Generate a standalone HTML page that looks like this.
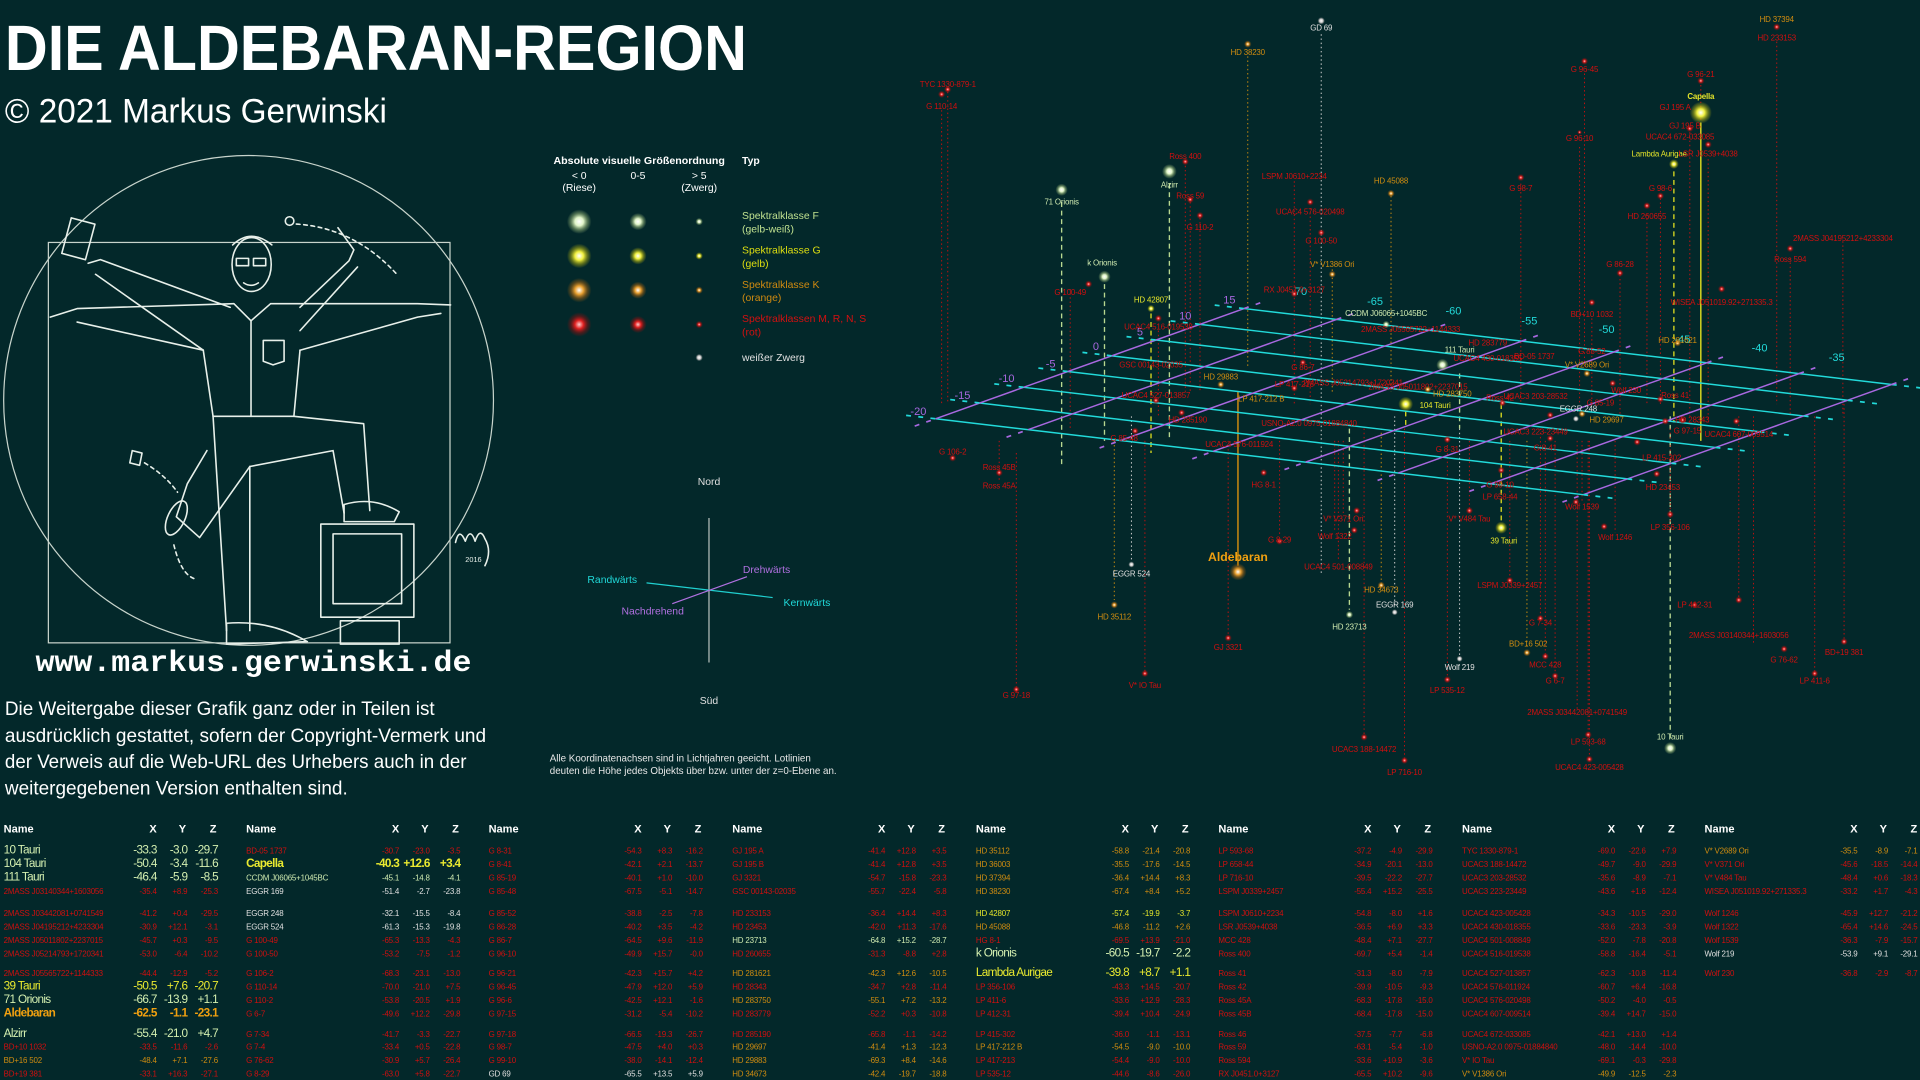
<!DOCTYPE html>
<html><head><meta charset="utf-8"><style>
html,body{margin:0;padding:0;background:#03282a;}
svg{display:block}
text{font-family:"Liberation Sans Narrow","Liberation Sans",sans-serif;}
.e{text-anchor:end}
.m{text-anchor:middle}
.r{fill:#d10f0f;font-size:6.5px;letter-spacing:-0.15px}
.o{fill:#d08c10;font-size:6.5px;letter-spacing:-0.15px}
.y{fill:#e4e42a;font-size:6.5px;letter-spacing:-0.15px}
.f{fill:#cfeab0;font-size:6.5px;letter-spacing:-0.15px}
.w{fill:#e0e0e0;font-size:6.5px;letter-spacing:-0.15px}
.B{font-size:9.6px;letter-spacing:-0.55px}
.bf{fill:#d4efb0}
.by{fill:#eaea30}
.bo{fill:#f0a010;font-weight:bold}
.hd{fill:#fff;font-size:9px;font-weight:bold}
.lr{stroke:#c01010;stroke-width:.8;stroke-dasharray:1.2 2.2}
.lo{stroke:#c88a10;stroke-width:.8;stroke-dasharray:1.2 2.2}
.lw{stroke:#d0d0d0;stroke-width:.8;stroke-dasharray:1.2 2.2}
.lf{stroke:#b8d890;stroke-width:1.1;stroke-dasharray:4 3}
.ly{stroke:#d8d820;stroke-width:1.1;stroke-dasharray:4 3}
.sk{fill:none;stroke:#e8f0ea;stroke-width:1.3;stroke-linejoin:round;stroke-linecap:round}
</style></head><body>
<svg width="1920" height="1080" viewBox="0 0 1568 882" xmlns="http://www.w3.org/2000/svg">
<defs>
<radialGradient id="gF"><stop offset="0" stop-color="#fff"/><stop offset=".35" stop-color="#e0f4c8"/><stop offset=".7" stop-color="#9ab878" stop-opacity=".5"/><stop offset="1" stop-color="#9ab878" stop-opacity="0"/></radialGradient>
<radialGradient id="gG"><stop offset="0" stop-color="#fff"/><stop offset=".35" stop-color="#f0f040"/><stop offset=".7" stop-color="#b0b010" stop-opacity=".5"/><stop offset="1" stop-color="#b0b010" stop-opacity="0"/></radialGradient>
<radialGradient id="gK"><stop offset="0" stop-color="#fff"/><stop offset=".35" stop-color="#e8a030"/><stop offset=".7" stop-color="#a06010" stop-opacity=".5"/><stop offset="1" stop-color="#a06010" stop-opacity="0"/></radialGradient>
<radialGradient id="gM"><stop offset="0" stop-color="#fcc"/><stop offset=".35" stop-color="#e02020"/><stop offset=".7" stop-color="#901010" stop-opacity=".5"/><stop offset="1" stop-color="#901010" stop-opacity="0"/></radialGradient>
<radialGradient id="gW"><stop offset="0" stop-color="#fff"/><stop offset=".5" stop-color="#c8c8c8"/><stop offset="1" stop-color="#888" stop-opacity="0"/></radialGradient>
</defs>
<rect width="1568" height="882" fill="#03282a"/>

<!-- Title -->
<text x="4" y="57" fill="#fff" font-size="52" font-weight="bold" textLength="606" lengthAdjust="spacingAndGlyphs" style="font-family:'Liberation Sans',sans-serif">DIE ALDEBARAN-REGION</text>
<text x="4" y="100" fill="#fff" font-size="28" textLength="312" lengthAdjust="spacingAndGlyphs" style="font-family:'Liberation Sans',sans-serif">© 2021 Markus Gerwinski</text>

<!-- Sketch -->
<circle cx="203" cy="327" r="200" fill="none" stroke="#c8d4cc" stroke-width="1"/>
<rect x="39.5" y="198" width="328" height="327" fill="none" stroke="#c8d4cc" stroke-width="1"/>
<g class="sk">
<ellipse cx="205.5" cy="216" rx="16" ry="22"/>
<path d="M190 200 Q205 186 222 200"/>
<rect x="193" y="211" width="10" height="6"/><rect x="207" y="211" width="10" height="6"/>
<path d="M199 231 Q205 235 211 231"/>
<path d="M191 248 L63 252 L41 259"/>
<path d="M166 286 L63 263"/>
<path d="M188 251 L82 212 L72 215"/>
<path d="M166 286 L78 224"/>
<rect x="54" y="180" width="20" height="30" transform="rotate(15 64 195)"/>
<path d="M221 248 L341 248 L368 249"/>
<path d="M245 286 L341 259 L360 256"/>
<path d="M245 251 L285 213 L289 204 L276 186"/>
<path d="M245 270 L292 218"/>
<path d="M191 248 L205 262 L221 248"/>
<path d="M166 286 L174 340 L240 340 L245 286"/>
<path d="M205 262 L205 340"/>
<path d="M215 278 L232 278 L232 295 L223 298 L215 295 Z"/>
<path d="M174 340 L185 515"/>
<path d="M204 381 L204 515"/>
<path d="M185 509 Q220 506 251 524 L185 526 Z"/>
<path d="M240 340 L297 346 L302 417"/>
<path d="M204 381 L272 368 L281 419"/>
<path d="M281 412 Q305 405 326 418 L322 426 L281 426 Z"/>
<path d="M169 368 L153 395 L144 422 L163 439 L204 381"/>
<ellipse cx="144" cy="423" rx="7" ry="15" transform="rotate(25 144 423)"/>
<rect x="262" y="428" width="76" height="76"/>
<rect x="272" y="436" width="56" height="57"/>
<path d="M278 507 L326 507 L326 526 L278 526 Z"/>
<circle cx="236.5" cy="180.5" r="3.5"/>
<path d="M242 183 Q290 186 325 225" stroke-dasharray="3 3"/>
<path d="M108 368 L116 370 L114 380 L106 378 Z"/>
<path d="M118 378 Q135 388 145 402" stroke-dasharray="3 3"/>
<path d="M142 445 Q148 470 160 473" stroke-dasharray="3 3"/>
<path d="M372 443 Q375 430 380 442 Q384 430 388 442 Q392 430 396 440 Q402 450 396 462"/>
</g>
<text x="380" y="459" fill="#e8f0ea" font-size="6">2016</text>
<text x="207" y="548" class="m" fill="#fff" font-size="24" font-weight="bold" textLength="356" lengthAdjust="spacingAndGlyphs" style="font-family:'Liberation Mono',monospace">www.markus.gerwinski.de</text>

<g fill="#fff" font-size="15.5" style="font-family:'Liberation Sans',sans-serif">
<text x="4" y="584" textLength="351" lengthAdjust="spacingAndGlyphs">Die Weitergabe dieser Grafik ganz oder in Teilen ist</text>
<text x="4" y="606" textLength="393" lengthAdjust="spacingAndGlyphs">ausdrücklich gestattet, sofern der Copyright-Vermerk und</text>
<text x="4" y="627" textLength="377" lengthAdjust="spacingAndGlyphs">der Verweis auf die Web-URL des Urhebers auch in der</text>
<text x="4" y="649" textLength="280" lengthAdjust="spacingAndGlyphs">weitergegebenen Version enthalten sind.</text>
</g>

<!-- Legend -->
<g font-size="8.5" fill="#fff">
<text x="452" y="134" font-weight="bold" textLength="140" lengthAdjust="spacingAndGlyphs">Absolute visuelle Größenordnung</text>
<text x="606" y="134" font-weight="bold">Typ</text>
<text x="473" y="146" class="m">&lt; 0</text><text x="473" y="156" class="m">(Riese)</text>
<text x="521" y="146" class="m">0-5</text>
<text x="571" y="146" class="m">&gt; 5</text><text x="571" y="156" class="m">(Zwerg)</text>
</g>
<circle cx="473" cy="181" r="10" fill="url(#gF)"/><circle cx="521" cy="181" r="7" fill="url(#gF)"/><circle cx="571" cy="181" r="3" fill="url(#gF)"/>
<circle cx="473" cy="209" r="10" fill="url(#gG)"/><circle cx="521" cy="209" r="7" fill="url(#gG)"/><circle cx="571" cy="209" r="3" fill="url(#gG)"/>
<circle cx="473" cy="237" r="10" fill="url(#gK)"/><circle cx="521" cy="237" r="7" fill="url(#gK)"/><circle cx="571" cy="237" r="3" fill="url(#gK)"/>
<circle cx="473" cy="265" r="10" fill="url(#gM)"/><circle cx="521" cy="265" r="7" fill="url(#gM)"/><circle cx="571" cy="265" r="3" fill="url(#gM)"/>
<circle cx="571" cy="292" r="3" fill="url(#gW)"/>
<g font-size="8.5">
<text x="606" y="179" fill="#bfe08f">Spektralklasse F</text><text x="606" y="190" fill="#bfe08f">(gelb-weiß)</text>
<text x="606" y="207" fill="#dede10">Spektralklasse G</text><text x="606" y="218" fill="#dede10">(gelb)</text>
<text x="606" y="235" fill="#d08a10">Spektralklasse K</text><text x="606" y="246" fill="#d08a10">(orange)</text>
<text x="606" y="263" fill="#d41010">Spektralklassen M, R, N, S</text><text x="606" y="274" fill="#d41010">(rot)</text>
<text x="606" y="295" fill="#e0e0e0">weißer Zwerg</text>
</g>

<!-- Compass -->
<line x1="579" y1="423" x2="579" y2="541" stroke="#9aa8a4" stroke-width="1.2"/>
<line x1="528" y1="476" x2="631" y2="488" stroke="#20d0d0" stroke-width="1"/>
<line x1="549" y1="493" x2="610" y2="471" stroke="#b070e0" stroke-width="1"/>
<g font-size="8.5">
<text x="579" y="396" class="m" fill="#e0e0e0">Nord</text>
<text x="579" y="575" class="m" fill="#e0e0e0">Süd</text>
<text x="500" y="476" class="m" fill="#20d8d8">Randwärts</text>
<text x="626" y="468" class="m" fill="#b070e0">Drehwärts</text>
<text x="533" y="502" class="m" fill="#b070e0">Nachdrehend</text>
<text x="659" y="495" class="m" fill="#20d8d8">Kernwärts</text>
</g>
<g font-size="8" fill="#e8e8e8">
<text x="449" y="622">Alle Koordinatenachsen sind in Lichtjahren geeicht. Lotlinien</text>
<text x="449" y="632">deuten die Höhe jedes Objekts über bzw. unter der z=0-Ebene an.</text>
</g>

<!-- Vertical drop lines -->
<g>
<line x1="1079" y1="28" x2="1079" y2="470" class="lw"/>
<line x1="1019" y1="46" x2="1019" y2="300" class="lo"/>
<line x1="1451" y1="34" x2="1451" y2="330" class="lr"/>
<line x1="774" y1="75" x2="774" y2="330" class="lr"/><line x1="769" y1="90" x2="769" y2="330" class="lr"/>
<line x1="1294" y1="60" x2="1294" y2="300" class="lr"/>
<line x1="1389" y1="66" x2="1389" y2="360" class="lr"/>
<line x1="1389" y1="100" x2="1389" y2="360" stroke="#d8d820" stroke-width="1.2"/>
<line x1="1380" y1="108" x2="1380" y2="340" class="lr"/>
<line x1="1395" y1="130" x2="1395" y2="345" class="lr"/>
<line x1="1367" y1="140" x2="1367" y2="345" class="ly"/>
<line x1="1290" y1="120" x2="1290" y2="330" class="lr"/>
<line x1="968" y1="132" x2="968" y2="320" class="lr"/>
<line x1="955" y1="150" x2="955" y2="360" class="lf"/>
<line x1="867" y1="165" x2="867" y2="380" class="lf"/>
<line x1="972" y1="165" x2="972" y2="320" class="lr"/>
<line x1="980" y1="178" x2="980" y2="320" class="lr"/>
<line x1="1057" y1="148" x2="1057" y2="330" class="lr"/>
<line x1="1070" y1="170" x2="1070" y2="330" class="lr"/>
<line x1="1136" y1="160" x2="1136" y2="320" class="lo"/>
<line x1="1242" y1="150" x2="1242" y2="330" class="lr"/>
<line x1="1356" y1="162" x2="1356" y2="330" class="lr"/>
<line x1="1345" y1="175" x2="1345" y2="330" class="lr"/>
<line x1="1088" y1="220" x2="1088" y2="320" class="lo"/>
<line x1="902" y1="232" x2="902" y2="360" class="lf"/>
<line x1="874" y1="236" x2="874" y2="350" class="lr"/>
<line x1="940" y1="256" x2="940" y2="370" class="ly"/>
<line x1="1323" y1="221" x2="1323" y2="340" class="lr"/>
<line x1="1462" y1="211" x2="1462" y2="340" class="lr"/>
<line x1="1505" y1="197" x2="1505" y2="340" class="lr"/>
<line x1="1300" y1="260" x2="1300" y2="330" class="lr"/>
<line x1="946" y1="270" x2="946" y2="340" class="lr"/>
<line x1="1192" y1="305" x2="1192" y2="350" class="lf"/>
<line x1="1148" y1="336" x2="1148" y2="350" class="ly"/>
<line x1="1011" y1="320" x2="1011" y2="462" stroke="#d08c10" stroke-width="1.2"/>
<line x1="924" y1="340" x2="924" y2="458" class="lw"/>
<line x1="1093" y1="360" x2="1093" y2="458" class="lr"/>
<line x1="1128" y1="350" x2="1128" y2="478" class="lo"/>
<line x1="1139" y1="340" x2="1139" y2="496" class="lw"/>
<line x1="1233" y1="360" x2="1233" y2="474" class="lr"/>
<line x1="1420" y1="340" x2="1420" y2="490" class="lr"/>
<line x1="1258" y1="350" x2="1258" y2="505" class="lr"/>
<line x1="910" y1="360" x2="910" y2="490" class="lo"/>
<line x1="1102" y1="350" x2="1102" y2="498" class="lf"/>
<line x1="1003" y1="360" x2="1003" y2="518" class="lr"/>
<line x1="1247" y1="360" x2="1247" y2="530" class="lo"/>
<line x1="1432" y1="340" x2="1432" y2="527" class="lr"/>
<line x1="1506" y1="330" x2="1506" y2="522" class="lr"/>
<line x1="1192" y1="350" x2="1192" y2="537" class="lw"/>
<line x1="1262" y1="360" x2="1262" y2="535" class="lr"/>
<line x1="935" y1="360" x2="935" y2="549" class="lr"/>
<line x1="1182" y1="360" x2="1182" y2="553" class="lr"/>
<line x1="1270" y1="360" x2="1270" y2="553" class="lr"/>
<line x1="1482" y1="340" x2="1482" y2="553" class="lr"/>
<line x1="830" y1="370" x2="830" y2="565" class="lr"/>
<line x1="1288" y1="360" x2="1288" y2="579" class="lr"/>
<line x1="1297" y1="360" x2="1297" y2="602" class="lr"/>
<line x1="1364" y1="340" x2="1364" y2="606" class="lf"/>
<line x1="1114" y1="350" x2="1114" y2="602" class="lr"/>
<line x1="1298" y1="360" x2="1298" y2="622" class="lr"/>
<line x1="1147" y1="350" x2="1147" y2="620" class="lr"/>
<line x1="1226" y1="330" x2="1226" y2="428" class="ly"/>
<line x1="1097" y1="360" x2="1097" y2="420" class="lr"/>
<line x1="1200" y1="360" x2="1200" y2="420" class="lr"/>
<line x1="1090" y1="360" x2="1090" y2="434" class="lr"/>
<line x1="1319" y1="360" x2="1319" y2="435" class="lr"/>
<line x1="1045" y1="360" x2="1045" y2="437" class="lr"/>
<line x1="1364" y1="350" x2="1364" y2="427" class="lr"/>
<line x1="1292" y1="360" x2="1292" y2="410" class="lr"/>
<line x1="816" y1="360" x2="816" y2="393" class="lr"/>
</g>

<!-- Grid -->
<g stroke-width="1.2">
<g stroke="#22dada">
<line x1="764" y1="342" x2="1293" y2="404"/>
<line x1="800" y1="329.1" x2="1329" y2="391.1"/>
<line x1="836" y1="316.3" x2="1365" y2="378.3"/>
<line x1="872" y1="303.4" x2="1401" y2="365.4"/>
<line x1="908" y1="290.6" x2="1437" y2="352.6"/>
<line x1="944" y1="277.7" x2="1473" y2="339.7"/>
<line x1="980" y1="264.9" x2="1509" y2="326.9"/>
<line x1="1016" y1="252" x2="1545" y2="314"/>
</g>
<g stroke="#a868e0">
<line x1="764" y1="342" x2="1016" y2="252"/>
<line x1="839.6" y1="350.9" x2="1091.6" y2="260.9"/>
<line x1="915.1" y1="359.7" x2="1167.1" y2="269.7"/>
<line x1="990.7" y1="368.6" x2="1242.7" y2="278.6"/>
<line x1="1066.3" y1="377.4" x2="1318.3" y2="287.4"/>
<line x1="1141.9" y1="386.3" x2="1393.9" y2="296.3"/>
<line x1="1217.4" y1="395.1" x2="1469.4" y2="305.1"/>
<line x1="1293" y1="404" x2="1545" y2="314"/>
</g>
<g stroke-dasharray="4 6" stroke-width="1.4">
<g stroke="#22dada">
<line x1="740" y1="339.2" x2="764" y2="342"/><line x1="1293" y1="404" x2="1318" y2="407"/>
<line x1="776" y1="326.3" x2="800" y2="329.1"/><line x1="1329" y1="391.1" x2="1354" y2="394"/>
<line x1="812" y1="313.5" x2="836" y2="316.3"/><line x1="1365" y1="378.3" x2="1390" y2="381.2"/>
<line x1="848" y1="300.6" x2="872" y2="303.4"/><line x1="1401" y1="365.4" x2="1426" y2="368.3"/>
<line x1="884" y1="287.8" x2="908" y2="290.6"/><line x1="1437" y1="352.6" x2="1462" y2="355.5"/>
<line x1="920" y1="274.9" x2="944" y2="277.7"/><line x1="1473" y1="339.7" x2="1498" y2="342.6"/>
<line x1="956" y1="262.1" x2="980" y2="264.9"/><line x1="1509" y1="326.9" x2="1534" y2="329.8"/>
<line x1="992" y1="249.2" x2="1016" y2="252"/><line x1="1545" y1="314" x2="1570" y2="317"/>
</g>
<g stroke="#a868e0">
<line x1="747" y1="348" x2="764" y2="342"/>
<line x1="822" y1="357" x2="839.6" y2="350.9"/>
<line x1="898" y1="365.8" x2="915.1" y2="359.7"/>
<line x1="973.7" y1="374.7" x2="990.7" y2="368.6"/>
<line x1="1049" y1="383.5" x2="1066.3" y2="377.4"/>
<line x1="1125" y1="392.4" x2="1141.9" y2="386.3"/>
<line x1="1200" y1="401.2" x2="1217.4" y2="395.1"/>
<line x1="1276" y1="410" x2="1293" y2="404"/>
<line x1="1016" y1="252" x2="1033" y2="246"/>
<line x1="1091.6" y1="260.9" x2="1109" y2="254.8"/>
<line x1="1167.1" y1="269.7" x2="1184" y2="263.6"/>
<line x1="1242.7" y1="278.6" x2="1260" y2="272.5"/>
<line x1="1318.3" y1="287.4" x2="1335" y2="281.3"/>
<line x1="1393.9" y1="296.3" x2="1411" y2="290.2"/>
<line x1="1469.4" y1="305.1" x2="1486" y2="299"/>
<line x1="1545" y1="314" x2="1562" y2="308"/>
</g>
</g>
</g>
<g font-size="9">
<g fill="#a868e0">
<text x="750" y="339" class="m">-20</text><text x="786" y="326" class="m">-15</text><text x="822" y="312" class="m">-10</text><text x="858" y="300" class="m">-5</text>
<text x="895" y="286" class="m">0</text><text x="931" y="274" class="m">5</text><text x="968" y="261" class="m">10</text><text x="1004" y="248" class="m">15</text>
</g>
<g fill="#22dada">
<text x="1061" y="241" class="m">-70</text><text x="1123" y="249" class="m">-65</text><text x="1187" y="257" class="m">-60</text><text x="1249" y="265" class="m">-55</text>
<text x="1312" y="272" class="m">-50</text><text x="1374" y="280" class="m">-45</text><text x="1437" y="287" class="m">-40</text><text x="1500" y="295" class="m">-35</text>
</g>
</g>

<!-- Stars -->
<g>
<circle cx="1079" cy="17" r="3" fill="url(#gW)"/><text x="1079" y="25" class="w m">GD 69</text>
<circle cx="1019" cy="36" r="3" fill="url(#gK)"/><text x="1019" y="45" class="o m">HD 38230</text>
<circle cx="1451" cy="22" r="3" fill="url(#gM)"/><text x="1451" y="18" class="o m">HD 37394</text><text x="1451" y="33" class="r m">HD 233153</text>
<circle cx="774" cy="73" r="3" fill="url(#gM)"/><circle cx="769" cy="77" r="3" fill="url(#gM)"/><text x="774" y="71" class="r m">TYC 1330-879-1</text><text x="769" y="89" class="r m">G 110-14</text>
<circle cx="1294" cy="50" r="3" fill="url(#gM)"/><text x="1294" y="59" class="r m">G 96-45</text>
<circle cx="1389" cy="66" r="3" fill="url(#gM)"/><text x="1389" y="63" class="r m">G 96-21</text>
<circle cx="1389" cy="92" r="9" fill="url(#gG)"/><text x="1389" y="81" class="y m" font-size="9.5" font-weight="bold">Capella</text>
<circle cx="1380" cy="105" r="3" fill="url(#gM)"/><text x="1368" y="90" class="r m">GJ 195 A</text><text x="1376" y="105" class="r m">GJ 195 B</text>
<text x="1372" y="114" class="r m">UCAC4 672-033085</text>
<circle cx="1367" cy="134" r="4" fill="url(#gG)"/><text x="1355" y="128" class="y m" font-size="9">Lambda Aurigae</text>
<circle cx="1395" cy="118" r="3" fill="url(#gM)"/><text x="1395" y="128" class="r m">LSR J0539+4038</text>
<circle cx="1290" cy="108" r="2" fill="url(#gM)"/><text x="1290" y="115" class="r m">G 96-10</text>
<circle cx="968" cy="132" r="3" fill="url(#gM)"/><text x="968" y="130" class="r m">Ross 400</text>
<circle cx="955" cy="140" r="6" fill="url(#gF)"/><text x="955" y="153" class="f m" font-size="9">Alzirr</text>
<circle cx="867" cy="155" r="5" fill="url(#gF)"/><text x="867" y="167" class="f m" font-size="9">71 Orionis</text>
<circle cx="972" cy="163" r="3" fill="url(#gM)"/><text x="972" y="162" class="r m">Ross 59</text>
<circle cx="980" cy="176" r="3" fill="url(#gM)"/><text x="980" y="188" class="r m">G 110-2</text>
<text x="1057" y="146" class="r m">LSPM J0610+2234</text>
<circle cx="1070" cy="165" r="3" fill="url(#gM)"/><text x="1070" y="175" class="r m">UCAC4 576-020498</text>
<circle cx="1079" cy="190" r="3" fill="url(#gM)"/><text x="1079" y="199" class="r m">G 100-50</text>
<circle cx="1136" cy="158" r="3" fill="url(#gK)"/><text x="1136" y="150" class="o m">HD 45088</text>
<circle cx="1242" cy="145" r="3" fill="url(#gM)"/><text x="1242" y="156" class="r m">G 98-7</text>
<circle cx="1356" cy="160" r="3" fill="url(#gM)"/><text x="1356" y="156" class="r m">G 98-6</text>
<circle cx="1345" cy="168" r="3" fill="url(#gM)"/><text x="1345" y="179" class="r m">HD 260655</text>
<circle cx="1088" cy="224" r="3" fill="url(#gK)"/><text x="1088" y="218" class="o m">V* V1386 Ori</text>
<circle cx="1057" cy="240" r="3" fill="url(#gM)"/><text x="1057" y="239" class="r m">RX J0451.0+3127</text>
<circle cx="902" cy="226" r="5" fill="url(#gF)"/><text x="900" y="217" class="f m" font-size="9">k Orionis</text>
<circle cx="889" cy="232" r="3" fill="url(#gM)"/><text x="874" y="241" class="r m">G 100-49</text>
<circle cx="940" cy="252" r="3" fill="url(#gG)"/><text x="940" y="247" class="y m">HD 42807</text>
<circle cx="1323" cy="223" r="3" fill="url(#gM)"/><text x="1323" y="218" class="r m">G 86-28</text>
<circle cx="1462" cy="203" r="3" fill="url(#gM)"/><text x="1462" y="214" class="r m">Ross 594</text>
<text x="1505" y="197" class="r m">2MASS J04195212+4233304</text>
<circle cx="1300" cy="247" r="3" fill="url(#gM)"/><text x="1300" y="259" class="r m">BD+10 1032</text>
<circle cx="1406" cy="236" r="3" fill="url(#gM)"/><text x="1406" y="249" class="r m">WISEA J051019.92+271335.3</text>
<circle cx="946" cy="260" r="3" fill="url(#gM)"/><text x="946" y="269" class="r m">UCAC4 516-019538</text>
<circle cx="1132" cy="265" r="3" fill="url(#gF)"/><text x="1132" y="258" class="f m">CCDM J06065+1045BC</text>
<text x="1152" y="271" class="r m">2MASS J05565722+1144333</text>
<text x="1215" y="282" class="r m">HD 283779</text>
<circle cx="1370" cy="280" r="3" fill="url(#gK)"/><text x="1370" y="280" class="o m">HD 281621</text>
<text x="1300" y="289" class="r m">G 85-52</text>
<circle cx="1178" cy="298" r="5" fill="url(#gF)"/><text x="1192" y="288" class="f m" font-size="9.5">111 Tauri</text>
<text x="1215" y="295" class="r m">UCAC4 430-018355</text>
<text x="1253" y="293" class="r m">BD-05 1737</text>
<text x="940" y="300" class="r m">GSC 00143-02035</text>
<circle cx="1296" cy="305" r="3" fill="url(#gK)"/><text x="1296" y="300" class="o m">V* V2689 Ori</text>
<circle cx="1064" cy="296" r="3" fill="url(#gM)"/><text x="1064" y="302" class="r m">G 86-7</text>
<circle cx="997" cy="314" r="3" fill="url(#gK)"/><text x="997" y="310" class="o m">HD 29883</text>
<circle cx="1057" cy="317" r="3" fill="url(#gM)"/><text x="1057" y="316" class="r m">LP 417-213</text>
<text x="1105" y="315" class="r m">2MASS J05214793+1720341</text>
<text x="1158" y="318" class="r m">2MASS J05011802+2237015</text>
<text x="1254" y="326" class="r m">UCAC3 203-28532</text>
<circle cx="1317" cy="313" r="3" fill="url(#gM)"/><text x="1328" y="321" class="r m">Wolf 230</text>
<circle cx="1148" cy="330" r="6" fill="url(#gG)"/><text x="1172" y="333" class="y m" font-size="9.5">104 Tauri</text>
<circle cx="1166" cy="318" r="3" fill="url(#gK)"/><text x="1186" y="324" class="o m">HD 283750</text>
<text x="1030" y="328" class="o m">LP 417-212 B</text>
<circle cx="944" cy="327" r="3" fill="url(#gM)"/><text x="944" y="325" class="r m">UCAC4 527-013857</text>
<circle cx="1227" cy="329" r="3" fill="url(#gM)"/><text x="1225" y="327" class="r m">Ross 42</text>
<text x="1307" y="331" class="r m">G 85-19</text>
<circle cx="1356" cy="326" r="3" fill="url(#gM)"/><text x="1368" y="325" class="r m">Ross 41</text>
<circle cx="1374" cy="343" r="3" fill="url(#gM)"/><text x="1382" y="345" class="r m">HD 28343</text>
<circle cx="1287" cy="342" r="2.5" fill="url(#gW)"/><text x="1289" y="336" class="w m">EGGR 248</text>
<circle cx="1292" cy="338" r="3" fill="url(#gK)"/><text x="1312" y="345" class="o m">HD 29697</text>
<circle cx="965" cy="337" r="3" fill="url(#gM)"/><text x="970" y="345" class="r m">HD 285190</text>
<text x="1069" y="348" class="r m">USNO-A2.0 0975-01884840</text>
<circle cx="1266" cy="339" r="3" fill="url(#gM)"/><text x="1254" y="355" class="r m">UCAC3 223-23449</text>
<circle cx="1360" cy="344" r="3" fill="url(#gM)"/><text x="1378" y="354" class="r m">G 97-15</text>
<circle cx="1418" cy="344" r="3" fill="url(#gM)"/><text x="1420" y="357" class="r m">UCAC4 607-009514</text>
<circle cx="927" cy="352" r="3" fill="url(#gM)"/><text x="918" y="360" class="r m">G 85-48</text>
<text x="1012" y="365" class="r m">UCAC4 576-011924</text>
<circle cx="778" cy="374" r="3" fill="url(#gM)"/><text x="778" y="371" class="r m">G 106-2</text>
<circle cx="1182" cy="359" r="3" fill="url(#gM)"/><text x="1182" y="369" class="r m">G 8-31</text>
<circle cx="1266" cy="358" r="3" fill="url(#gM)"/><text x="1262" y="368" class="r m">G 8-41</text>
<circle cx="1337" cy="361" r="3" fill="url(#gM)"/><text x="1357" y="376" class="r m">LP 415-302</text>
<circle cx="816" cy="386" r="3" fill="url(#gM)"/><text x="816" y="384" class="r m">Ross 45B</text><text x="816" y="399" class="r m">Ross 45A</text>
<circle cx="1032" cy="386" r="3" fill="url(#gM)"/><text x="1032" y="398" class="r m">HG 8-1</text>
<circle cx="1226" cy="384" r="3" fill="url(#gM)"/><text x="1225" y="398" class="r m">G 99-10</text>
<circle cx="1353" cy="387" r="3" fill="url(#gM)"/><text x="1358" y="400" class="r m">HD 23453</text>
<text x="1225" y="408" class="r m">LP 658-44</text>
<circle cx="1287" cy="410" r="3" fill="url(#gM)"/><text x="1292" y="416" class="r m">Wolf 1539</text>
<circle cx="1364" cy="420" r="3" fill="url(#gM)"/><text x="1364" y="433" class="r m">LP 356-106</text>
<circle cx="1108" cy="417" r="3" fill="url(#gM)"/><text x="1097" y="426" class="r m">V* V371 Ori</text>
<circle cx="1200" cy="417" r="3" fill="url(#gM)"/><text x="1200" y="426" class="r m">V* V484 Tau</text>
<circle cx="1106" cy="433" r="3" fill="url(#gM)"/><text x="1090" y="440" class="r m">Wolf 1322</text>
<circle cx="1310" cy="430" r="3" fill="url(#gM)"/><text x="1319" y="441" class="r m">Wolf 1246</text>
<circle cx="1226" cy="431" r="5" fill="url(#gG)"/><text x="1228" y="444" class="y m" font-size="8.5">39 Tauri</text>
<circle cx="1045" cy="442" r="3" fill="url(#gM)"/><text x="1045" y="443" class="r m">G 8-29</text>
<circle cx="1011" cy="467" r="7" fill="url(#gK)"/><text x="1011" y="458" class="m" fill="#f0a010" font-size="10" font-weight="bold">Aldebaran</text>
<circle cx="924" cy="461" r="2.5" fill="url(#gW)"/><text x="924" y="471" class="w m">EGGR 524</text>
<text x="1093" y="465" class="r m">UCAC4 501-008849</text>
<circle cx="1128" cy="478" r="3" fill="url(#gK)"/><text x="1128" y="484" class="o m">HD 34673</text>
<circle cx="1139" cy="500" r="2.5" fill="url(#gW)"/><text x="1139" y="496" class="w m">EGGR 169</text>
<circle cx="1233" cy="474" r="3" fill="url(#gM)"/><text x="1233" y="480" class="r m">LSPM J0339+2457</text>
<circle cx="1420" cy="490" r="3" fill="url(#gM)"/><text x="1420" y="521" class="r m">2MASS J03140344+1603056</text>
<circle cx="1384" cy="494" r="3" fill="url(#gM)"/><text x="1384" y="496" class="r m">LP 412-31</text>
<circle cx="1258" cy="505" r="3" fill="url(#gM)"/><text x="1258" y="511" class="r m">G 7-34</text>
<circle cx="910" cy="494" r="3" fill="url(#gK)"/><text x="910" y="506" class="o m">HD 35112</text>
<circle cx="1102" cy="502" r="3" fill="url(#gF)"/><text x="1102" y="514" class="f m">HD 23713</text>
<circle cx="1003" cy="521" r="3" fill="url(#gM)"/><text x="1003" y="531" class="r m">GJ 3321</text>
<circle cx="1247" cy="533" r="3" fill="url(#gK)"/><text x="1248" y="528" class="o m">BD+16 502</text>
<circle cx="1457" cy="530" r="3" fill="url(#gM)"/><text x="1457" y="541" class="r m">G 76-62</text>
<circle cx="1506" cy="524" r="3" fill="url(#gM)"/><text x="1506" y="535" class="r m">BD+19 381</text>
<circle cx="1192" cy="538" r="2.5" fill="url(#gW)"/><text x="1192" y="547" class="w m">Wolf 219</text>
<circle cx="1262" cy="536" r="3" fill="url(#gM)"/><text x="1262" y="545" class="r m">MCC 428</text>
<circle cx="935" cy="550" r="3" fill="url(#gM)"/><text x="935" y="562" class="r m">V* IO Tau</text>
<circle cx="1182" cy="555" r="3" fill="url(#gM)"/><text x="1182" y="566" class="r m">LP 535-12</text>
<circle cx="1270" cy="552" r="3" fill="url(#gM)"/><text x="1270" y="558" class="r m">G 6-7</text>
<circle cx="1482" cy="550" r="3" fill="url(#gM)"/><text x="1482" y="558" class="r m">LP 411-6</text>
<circle cx="830" cy="563" r="3" fill="url(#gM)"/><text x="830" y="570" class="r m">G 97-18</text>
<text x="1288" y="584" class="r m">2MASS J03442081+0741549</text>
<circle cx="1297" cy="600" r="3" fill="url(#gM)"/><text x="1297" y="608" class="r m">LP 593-68</text>
<circle cx="1364" cy="611" r="5" fill="url(#gF)"/><text x="1364" y="604" class="f m" font-size="9">10 Tauri</text>
<circle cx="1114" cy="602" r="3" fill="url(#gM)"/><text x="1114" y="614" class="r m">UCAC3 188-14472</text>
<circle cx="1298" cy="620" r="3" fill="url(#gM)"/><text x="1298" y="629" class="r m">UCAC4 423-005428</text>
<circle cx="1147" cy="621" r="3" fill="url(#gM)"/><text x="1147" y="633" class="r m">LP 716-10</text>
</g>

<!-- Table -->
<g transform="translate(3,0)">
<text y="680" class="hd"><tspan x="0">Name</tspan><tspan x="122" class="m">X</tspan><tspan x="146" class="m">Y</tspan><tspan x="171" class="m">Z</tspan></text>
<text y="697" class="f B bf"><tspan x="0">10 Tauri</tspan><tspan x="125" class="e">-33.3</tspan><tspan x="150" class="e">-3.0</tspan><tspan x="175" class="e">-29.7</tspan></text>
<text y="708" class="f B bf"><tspan x="0">104 Tauri</tspan><tspan x="125" class="e">-50.4</tspan><tspan x="150" class="e">-3.4</tspan><tspan x="175" class="e">-11.6</tspan></text>
<text y="719" class="f B bf"><tspan x="0">111 Tauri</tspan><tspan x="125" class="e">-46.4</tspan><tspan x="150" class="e">-5.9</tspan><tspan x="175" class="e">-8.5</tspan></text>
<text y="730" class="r"><tspan x="0">2MASS J03140344+1603056</tspan><tspan x="125" class="e">-35.4</tspan><tspan x="150" class="e">+8.9</tspan><tspan x="175" class="e">-25.3</tspan></text>
<text y="748" class="r"><tspan x="0">2MASS J03442081+0741549</tspan><tspan x="125" class="e">-41.2</tspan><tspan x="150" class="e">+0.4</tspan><tspan x="175" class="e">-29.5</tspan></text>
<text y="759" class="r"><tspan x="0">2MASS J04195212+4233304</tspan><tspan x="125" class="e">-30.9</tspan><tspan x="150" class="e">+12.1</tspan><tspan x="175" class="e">-3.1</tspan></text>
<text y="770" class="r"><tspan x="0">2MASS J05011802+2237015</tspan><tspan x="125" class="e">-45.7</tspan><tspan x="150" class="e">+0.3</tspan><tspan x="175" class="e">-9.5</tspan></text>
<text y="781" class="r"><tspan x="0">2MASS J05214793+1720341</tspan><tspan x="125" class="e">-53.0</tspan><tspan x="150" class="e">-6.4</tspan><tspan x="175" class="e">-10.2</tspan></text>
<text y="797" class="r"><tspan x="0">2MASS J05565722+1144333</tspan><tspan x="125" class="e">-44.4</tspan><tspan x="150" class="e">-12.9</tspan><tspan x="175" class="e">-5.2</tspan></text>
<text y="808" class="y B by"><tspan x="0">39 Tauri</tspan><tspan x="125" class="e">-50.5</tspan><tspan x="150" class="e">+7.6</tspan><tspan x="175" class="e">-20.7</tspan></text>
<text y="819" class="f B bf"><tspan x="0">71 Orionis</tspan><tspan x="125" class="e">-66.7</tspan><tspan x="150" class="e">-13.9</tspan><tspan x="175" class="e">+1.1</tspan></text>
<text y="830" class="o B bo"><tspan x="0">Aldebaran</tspan><tspan x="125" class="e">-62.5</tspan><tspan x="150" class="e">-1.1</tspan><tspan x="175" class="e">-23.1</tspan></text>
<text y="847" class="f B bf"><tspan x="0">Alzirr</tspan><tspan x="125" class="e">-55.4</tspan><tspan x="150" class="e">-21.0</tspan><tspan x="175" class="e">+4.7</tspan></text>
<text y="857" class="r"><tspan x="0">BD+10 1032</tspan><tspan x="125" class="e">-33.5</tspan><tspan x="150" class="e">-11.6</tspan><tspan x="175" class="e">-2.6</tspan></text>
<text y="868" class="o"><tspan x="0">BD+16 502</tspan><tspan x="125" class="e">-48.4</tspan><tspan x="150" class="e">+7.1</tspan><tspan x="175" class="e">-27.6</tspan></text>
<text y="879" class="r"><tspan x="0">BD+19 381</tspan><tspan x="125" class="e">-33.1</tspan><tspan x="150" class="e">+16.3</tspan><tspan x="175" class="e">-27.1</tspan></text>
</g>

<g transform="translate(201,0)">
<text y="680" class="hd"><tspan x="0">Name</tspan><tspan x="122" class="m">X</tspan><tspan x="146" class="m">Y</tspan><tspan x="171" class="m">Z</tspan></text>
<text y="697" class="r"><tspan x="0">BD-05 1737</tspan><tspan x="125" class="e">-30.7</tspan><tspan x="150" class="e">-23.0</tspan><tspan x="175" class="e">-3.5</tspan></text>
<text y="708" class="y B by" font-weight="bold"><tspan x="0">Capella</tspan><tspan x="125" class="e">-40.3</tspan><tspan x="150" class="e">+12.6</tspan><tspan x="175" class="e">+3.4</tspan></text>
<text y="719" class="f"><tspan x="0">CCDM J06065+1045BC</tspan><tspan x="125" class="e">-45.1</tspan><tspan x="150" class="e">-14.8</tspan><tspan x="175" class="e">-4.1</tspan></text>
<text y="730" class="w"><tspan x="0">EGGR 169</tspan><tspan x="125" class="e">-51.4</tspan><tspan x="150" class="e">-2.7</tspan><tspan x="175" class="e">-23.8</tspan></text>
<text y="748" class="w"><tspan x="0">EGGR 248</tspan><tspan x="125" class="e">-32.1</tspan><tspan x="150" class="e">-15.5</tspan><tspan x="175" class="e">-8.4</tspan></text>
<text y="759" class="w"><tspan x="0">EGGR 524</tspan><tspan x="125" class="e">-61.3</tspan><tspan x="150" class="e">-15.3</tspan><tspan x="175" class="e">-19.8</tspan></text>
<text y="770" class="r"><tspan x="0">G 100-49</tspan><tspan x="125" class="e">-65.3</tspan><tspan x="150" class="e">-13.3</tspan><tspan x="175" class="e">-4.3</tspan></text>
<text y="781" class="r"><tspan x="0">G 100-50</tspan><tspan x="125" class="e">-53.2</tspan><tspan x="150" class="e">-7.5</tspan><tspan x="175" class="e">-1.2</tspan></text>
<text y="797" class="r"><tspan x="0">G 106-2</tspan><tspan x="125" class="e">-68.3</tspan><tspan x="150" class="e">-23.1</tspan><tspan x="175" class="e">-13.0</tspan></text>
<text y="808" class="r"><tspan x="0">G 110-14</tspan><tspan x="125" class="e">-70.0</tspan><tspan x="150" class="e">-21.0</tspan><tspan x="175" class="e">+7.5</tspan></text>
<text y="819" class="r"><tspan x="0">G 110-2</tspan><tspan x="125" class="e">-53.8</tspan><tspan x="150" class="e">-20.5</tspan><tspan x="175" class="e">+1.9</tspan></text>
<text y="830" class="r"><tspan x="0">G 6-7</tspan><tspan x="125" class="e">-49.6</tspan><tspan x="150" class="e">+12.2</tspan><tspan x="175" class="e">-29.8</tspan></text>
<text y="847" class="r"><tspan x="0">G 7-34</tspan><tspan x="125" class="e">-41.7</tspan><tspan x="150" class="e">-3.3</tspan><tspan x="175" class="e">-22.7</tspan></text>
<text y="857" class="r"><tspan x="0">G 7-4</tspan><tspan x="125" class="e">-33.4</tspan><tspan x="150" class="e">+0.5</tspan><tspan x="175" class="e">-22.8</tspan></text>
<text y="868" class="r"><tspan x="0">G 76-62</tspan><tspan x="125" class="e">-30.9</tspan><tspan x="150" class="e">+5.7</tspan><tspan x="175" class="e">-26.4</tspan></text>
<text y="879" class="r"><tspan x="0">G 8-29</tspan><tspan x="125" class="e">-63.0</tspan><tspan x="150" class="e">+5.8</tspan><tspan x="175" class="e">-22.7</tspan></text>
</g>

<g transform="translate(399,0)">
<text y="680" class="hd"><tspan x="0">Name</tspan><tspan x="122" class="m">X</tspan><tspan x="146" class="m">Y</tspan><tspan x="171" class="m">Z</tspan></text>
<text y="697" class="r"><tspan x="0">G 8-31</tspan><tspan x="125" class="e">-54.3</tspan><tspan x="150" class="e">+8.3</tspan><tspan x="175" class="e">-16.2</tspan></text>
<text y="708" class="r"><tspan x="0">G 8-41</tspan><tspan x="125" class="e">-42.1</tspan><tspan x="150" class="e">+2.1</tspan><tspan x="175" class="e">-13.7</tspan></text>
<text y="719" class="r"><tspan x="0">G 85-19</tspan><tspan x="125" class="e">-40.1</tspan><tspan x="150" class="e">+1.0</tspan><tspan x="175" class="e">-10.0</tspan></text>
<text y="730" class="r"><tspan x="0">G 85-48</tspan><tspan x="125" class="e">-67.5</tspan><tspan x="150" class="e">-5.1</tspan><tspan x="175" class="e">-14.7</tspan></text>
<text y="748" class="r"><tspan x="0">G 85-52</tspan><tspan x="125" class="e">-38.8</tspan><tspan x="150" class="e">-2.5</tspan><tspan x="175" class="e">-7.8</tspan></text>
<text y="759" class="r"><tspan x="0">G 86-28</tspan><tspan x="125" class="e">-40.2</tspan><tspan x="150" class="e">+3.5</tspan><tspan x="175" class="e">-4.2</tspan></text>
<text y="770" class="r"><tspan x="0">G 86-7</tspan><tspan x="125" class="e">-64.5</tspan><tspan x="150" class="e">+9.6</tspan><tspan x="175" class="e">-11.9</tspan></text>
<text y="781" class="r"><tspan x="0">G 96-10</tspan><tspan x="125" class="e">-49.9</tspan><tspan x="150" class="e">+15.7</tspan><tspan x="175" class="e">-0.0</tspan></text>
<text y="797" class="r"><tspan x="0">G 96-21</tspan><tspan x="125" class="e">-42.3</tspan><tspan x="150" class="e">+15.7</tspan><tspan x="175" class="e">+4.2</tspan></text>
<text y="808" class="r"><tspan x="0">G 96-45</tspan><tspan x="125" class="e">-47.9</tspan><tspan x="150" class="e">+12.0</tspan><tspan x="175" class="e">+5.9</tspan></text>
<text y="819" class="r"><tspan x="0">G 96-6</tspan><tspan x="125" class="e">-42.5</tspan><tspan x="150" class="e">+12.1</tspan><tspan x="175" class="e">-1.6</tspan></text>
<text y="830" class="r"><tspan x="0">G 97-15</tspan><tspan x="125" class="e">-31.2</tspan><tspan x="150" class="e">-5.4</tspan><tspan x="175" class="e">-10.2</tspan></text>
<text y="847" class="r"><tspan x="0">G 97-18</tspan><tspan x="125" class="e">-66.5</tspan><tspan x="150" class="e">-19.3</tspan><tspan x="175" class="e">-26.7</tspan></text>
<text y="857" class="r"><tspan x="0">G 98-7</tspan><tspan x="125" class="e">-47.5</tspan><tspan x="150" class="e">+4.0</tspan><tspan x="175" class="e">+0.3</tspan></text>
<text y="868" class="r"><tspan x="0">G 99-10</tspan><tspan x="125" class="e">-38.0</tspan><tspan x="150" class="e">-14.1</tspan><tspan x="175" class="e">-12.4</tspan></text>
<text y="879" class="w"><tspan x="0">GD 69</tspan><tspan x="125" class="e">-65.5</tspan><tspan x="150" class="e">+13.5</tspan><tspan x="175" class="e">+5.9</tspan></text>
</g>

<g transform="translate(598,0)">
<text y="680" class="hd"><tspan x="0">Name</tspan><tspan x="122" class="m">X</tspan><tspan x="146" class="m">Y</tspan><tspan x="171" class="m">Z</tspan></text>
<text y="697" class="r"><tspan x="0">GJ 195 A</tspan><tspan x="125" class="e">-41.4</tspan><tspan x="150" class="e">+12.8</tspan><tspan x="175" class="e">+3.5</tspan></text>
<text y="708" class="r"><tspan x="0">GJ 195 B</tspan><tspan x="125" class="e">-41.4</tspan><tspan x="150" class="e">+12.8</tspan><tspan x="175" class="e">+3.5</tspan></text>
<text y="719" class="r"><tspan x="0">GJ 3321</tspan><tspan x="125" class="e">-54.7</tspan><tspan x="150" class="e">-15.8</tspan><tspan x="175" class="e">-23.3</tspan></text>
<text y="730" class="r"><tspan x="0">GSC 00143-02035</tspan><tspan x="125" class="e">-55.7</tspan><tspan x="150" class="e">-22.4</tspan><tspan x="175" class="e">-5.8</tspan></text>
<text y="748" class="r"><tspan x="0">HD 233153</tspan><tspan x="125" class="e">-36.4</tspan><tspan x="150" class="e">+14.4</tspan><tspan x="175" class="e">+8.3</tspan></text>
<text y="759" class="r"><tspan x="0">HD 23453</tspan><tspan x="125" class="e">-42.0</tspan><tspan x="150" class="e">+11.3</tspan><tspan x="175" class="e">-17.6</tspan></text>
<text y="770" class="f"><tspan x="0">HD 23713</tspan><tspan x="125" class="e">-64.8</tspan><tspan x="150" class="e">+15.2</tspan><tspan x="175" class="e">-28.7</tspan></text>
<text y="781" class="r"><tspan x="0">HD 260655</tspan><tspan x="125" class="e">-31.3</tspan><tspan x="150" class="e">-8.8</tspan><tspan x="175" class="e">+2.8</tspan></text>
<text y="797" class="o"><tspan x="0">HD 281621</tspan><tspan x="125" class="e">-42.3</tspan><tspan x="150" class="e">+12.6</tspan><tspan x="175" class="e">-10.5</tspan></text>
<text y="808" class="r"><tspan x="0">HD 28343</tspan><tspan x="125" class="e">-34.7</tspan><tspan x="150" class="e">+2.8</tspan><tspan x="175" class="e">-11.4</tspan></text>
<text y="819" class="o"><tspan x="0">HD 283750</tspan><tspan x="125" class="e">-55.1</tspan><tspan x="150" class="e">+7.2</tspan><tspan x="175" class="e">-13.2</tspan></text>
<text y="830" class="r"><tspan x="0">HD 283779</tspan><tspan x="125" class="e">-52.2</tspan><tspan x="150" class="e">+0.3</tspan><tspan x="175" class="e">-10.8</tspan></text>
<text y="847" class="r"><tspan x="0">HD 285190</tspan><tspan x="125" class="e">-65.8</tspan><tspan x="150" class="e">-1.1</tspan><tspan x="175" class="e">-14.2</tspan></text>
<text y="857" class="o"><tspan x="0">HD 29697</tspan><tspan x="125" class="e">-41.4</tspan><tspan x="150" class="e">+1.3</tspan><tspan x="175" class="e">-12.3</tspan></text>
<text y="868" class="o"><tspan x="0">HD 29883</tspan><tspan x="125" class="e">-69.3</tspan><tspan x="150" class="e">+8.4</tspan><tspan x="175" class="e">-14.6</tspan></text>
<text y="879" class="o"><tspan x="0">HD 34673</tspan><tspan x="125" class="e">-42.4</tspan><tspan x="150" class="e">-19.7</tspan><tspan x="175" class="e">-18.8</tspan></text>
</g>

<g transform="translate(797,0)">
<text y="680" class="hd"><tspan x="0">Name</tspan><tspan x="122" class="m">X</tspan><tspan x="146" class="m">Y</tspan><tspan x="171" class="m">Z</tspan></text>
<text y="697" class="o"><tspan x="0">HD 35112</tspan><tspan x="125" class="e">-58.8</tspan><tspan x="150" class="e">-21.4</tspan><tspan x="175" class="e">-20.8</tspan></text>
<text y="708" class="o"><tspan x="0">HD 36003</tspan><tspan x="125" class="e">-35.5</tspan><tspan x="150" class="e">-17.6</tspan><tspan x="175" class="e">-14.5</tspan></text>
<text y="719" class="o"><tspan x="0">HD 37394</tspan><tspan x="125" class="e">-36.4</tspan><tspan x="150" class="e">+14.4</tspan><tspan x="175" class="e">+8.3</tspan></text>
<text y="730" class="o"><tspan x="0">HD 38230</tspan><tspan x="125" class="e">-67.4</tspan><tspan x="150" class="e">+8.4</tspan><tspan x="175" class="e">+5.2</tspan></text>
<text y="748" class="y"><tspan x="0">HD 42807</tspan><tspan x="125" class="e">-57.4</tspan><tspan x="150" class="e">-19.9</tspan><tspan x="175" class="e">-3.7</tspan></text>
<text y="759" class="o"><tspan x="0">HD 45088</tspan><tspan x="125" class="e">-46.8</tspan><tspan x="150" class="e">-11.2</tspan><tspan x="175" class="e">+2.6</tspan></text>
<text y="770" class="r"><tspan x="0">HG 8-1</tspan><tspan x="125" class="e">-69.5</tspan><tspan x="150" class="e">+13.9</tspan><tspan x="175" class="e">-21.0</tspan></text>
<text y="781" class="f B bf"><tspan x="0">k Orionis</tspan><tspan x="125" class="e">-60.5</tspan><tspan x="150" class="e">-19.7</tspan><tspan x="175" class="e">-2.2</tspan></text>
<text y="797" class="y B by"><tspan x="0">Lambda Aurigae</tspan><tspan x="125" class="e">-39.8</tspan><tspan x="150" class="e">+8.7</tspan><tspan x="175" class="e">+1.1</tspan></text>
<text y="808" class="r"><tspan x="0">LP 356-106</tspan><tspan x="125" class="e">-43.3</tspan><tspan x="150" class="e">+14.5</tspan><tspan x="175" class="e">-20.7</tspan></text>
<text y="819" class="r"><tspan x="0">LP 411-6</tspan><tspan x="125" class="e">-33.6</tspan><tspan x="150" class="e">+12.9</tspan><tspan x="175" class="e">-28.3</tspan></text>
<text y="830" class="r"><tspan x="0">LP 412-31</tspan><tspan x="125" class="e">-39.4</tspan><tspan x="150" class="e">+10.4</tspan><tspan x="175" class="e">-24.9</tspan></text>
<text y="847" class="r"><tspan x="0">LP 415-302</tspan><tspan x="125" class="e">-36.0</tspan><tspan x="150" class="e">-1.1</tspan><tspan x="175" class="e">-13.1</tspan></text>
<text y="857" class="o"><tspan x="0">LP 417-212 B</tspan><tspan x="125" class="e">-54.5</tspan><tspan x="150" class="e">-9.0</tspan><tspan x="175" class="e">-10.0</tspan></text>
<text y="868" class="r"><tspan x="0">LP 417-213</tspan><tspan x="125" class="e">-54.4</tspan><tspan x="150" class="e">-9.0</tspan><tspan x="175" class="e">-10.0</tspan></text>
<text y="879" class="r"><tspan x="0">LP 535-12</tspan><tspan x="125" class="e">-44.6</tspan><tspan x="150" class="e">-8.6</tspan><tspan x="175" class="e">-26.0</tspan></text>
</g>

<g transform="translate(995,0)">
<text y="680" class="hd"><tspan x="0">Name</tspan><tspan x="122" class="m">X</tspan><tspan x="146" class="m">Y</tspan><tspan x="171" class="m">Z</tspan></text>
<text y="697" class="r"><tspan x="0">LP 593-68</tspan><tspan x="125" class="e">-37.2</tspan><tspan x="150" class="e">-4.9</tspan><tspan x="175" class="e">-29.9</tspan></text>
<text y="708" class="r"><tspan x="0">LP 658-44</tspan><tspan x="125" class="e">-34.9</tspan><tspan x="150" class="e">-20.1</tspan><tspan x="175" class="e">-13.0</tspan></text>
<text y="719" class="r"><tspan x="0">LP 716-10</tspan><tspan x="125" class="e">-39.5</tspan><tspan x="150" class="e">-22.2</tspan><tspan x="175" class="e">-27.7</tspan></text>
<text y="730" class="r"><tspan x="0">LSPM J0339+2457</tspan><tspan x="125" class="e">-55.4</tspan><tspan x="150" class="e">+15.2</tspan><tspan x="175" class="e">-25.5</tspan></text>
<text y="748" class="r"><tspan x="0">LSPM J0610+2234</tspan><tspan x="125" class="e">-54.8</tspan><tspan x="150" class="e">-8.0</tspan><tspan x="175" class="e">+1.6</tspan></text>
<text y="759" class="r"><tspan x="0">LSR J0539+4038</tspan><tspan x="125" class="e">-36.5</tspan><tspan x="150" class="e">+6.9</tspan><tspan x="175" class="e">+3.3</tspan></text>
<text y="770" class="r"><tspan x="0">MCC 428</tspan><tspan x="125" class="e">-48.4</tspan><tspan x="150" class="e">+7.1</tspan><tspan x="175" class="e">-27.7</tspan></text>
<text y="781" class="r"><tspan x="0">Ross 400</tspan><tspan x="125" class="e">-69.7</tspan><tspan x="150" class="e">+5.4</tspan><tspan x="175" class="e">-1.4</tspan></text>
<text y="797" class="r"><tspan x="0">Ross 41</tspan><tspan x="125" class="e">-31.3</tspan><tspan x="150" class="e">-8.0</tspan><tspan x="175" class="e">-7.9</tspan></text>
<text y="808" class="r"><tspan x="0">Ross 42</tspan><tspan x="125" class="e">-39.9</tspan><tspan x="150" class="e">-10.5</tspan><tspan x="175" class="e">-9.3</tspan></text>
<text y="819" class="r"><tspan x="0">Ross 45A</tspan><tspan x="125" class="e">-68.3</tspan><tspan x="150" class="e">-17.8</tspan><tspan x="175" class="e">-15.0</tspan></text>
<text y="830" class="r"><tspan x="0">Ross 45B</tspan><tspan x="125" class="e">-68.4</tspan><tspan x="150" class="e">-17.8</tspan><tspan x="175" class="e">-15.0</tspan></text>
<text y="847" class="r"><tspan x="0">Ross 46</tspan><tspan x="125" class="e">-37.5</tspan><tspan x="150" class="e">-7.7</tspan><tspan x="175" class="e">-6.8</tspan></text>
<text y="857" class="r"><tspan x="0">Ross 59</tspan><tspan x="125" class="e">-63.1</tspan><tspan x="150" class="e">-5.4</tspan><tspan x="175" class="e">-1.0</tspan></text>
<text y="868" class="r"><tspan x="0">Ross 594</tspan><tspan x="125" class="e">-33.6</tspan><tspan x="150" class="e">+10.9</tspan><tspan x="175" class="e">-3.6</tspan></text>
<text y="879" class="r"><tspan x="0">RX J0451.0+3127</tspan><tspan x="125" class="e">-65.5</tspan><tspan x="150" class="e">+10.2</tspan><tspan x="175" class="e">-9.6</tspan></text>
</g>

<g transform="translate(1194,0)">
<text y="680" class="hd"><tspan x="0">Name</tspan><tspan x="122" class="m">X</tspan><tspan x="146" class="m">Y</tspan><tspan x="171" class="m">Z</tspan></text>
<text y="697" class="r"><tspan x="0">TYC 1330-879-1</tspan><tspan x="125" class="e">-69.0</tspan><tspan x="150" class="e">-22.6</tspan><tspan x="175" class="e">+7.9</tspan></text>
<text y="708" class="r"><tspan x="0">UCAC3 188-14472</tspan><tspan x="125" class="e">-49.7</tspan><tspan x="150" class="e">-9.0</tspan><tspan x="175" class="e">-29.9</tspan></text>
<text y="719" class="r"><tspan x="0">UCAC3 203-28532</tspan><tspan x="125" class="e">-35.6</tspan><tspan x="150" class="e">-8.9</tspan><tspan x="175" class="e">-7.1</tspan></text>
<text y="730" class="r"><tspan x="0">UCAC3 223-23449</tspan><tspan x="125" class="e">-43.6</tspan><tspan x="150" class="e">+1.6</tspan><tspan x="175" class="e">-12.4</tspan></text>
<text y="748" class="r"><tspan x="0">UCAC4 423-005428</tspan><tspan x="125" class="e">-34.3</tspan><tspan x="150" class="e">-10.5</tspan><tspan x="175" class="e">-29.0</tspan></text>
<text y="759" class="r"><tspan x="0">UCAC4 430-018355</tspan><tspan x="125" class="e">-33.6</tspan><tspan x="150" class="e">-23.3</tspan><tspan x="175" class="e">-3.9</tspan></text>
<text y="770" class="r"><tspan x="0">UCAC4 501-008849</tspan><tspan x="125" class="e">-52.0</tspan><tspan x="150" class="e">-7.8</tspan><tspan x="175" class="e">-20.8</tspan></text>
<text y="781" class="r"><tspan x="0">UCAC4 516-019538</tspan><tspan x="125" class="e">-58.8</tspan><tspan x="150" class="e">-16.4</tspan><tspan x="175" class="e">-5.1</tspan></text>
<text y="797" class="r"><tspan x="0">UCAC4 527-013857</tspan><tspan x="125" class="e">-62.3</tspan><tspan x="150" class="e">-10.8</tspan><tspan x="175" class="e">-11.4</tspan></text>
<text y="808" class="r"><tspan x="0">UCAC4 576-011924</tspan><tspan x="125" class="e">-60.7</tspan><tspan x="150" class="e">+6.4</tspan><tspan x="175" class="e">-16.8</tspan></text>
<text y="819" class="r"><tspan x="0">UCAC4 576-020498</tspan><tspan x="125" class="e">-50.2</tspan><tspan x="150" class="e">-4.0</tspan><tspan x="175" class="e">-0.5</tspan></text>
<text y="830" class="r"><tspan x="0">UCAC4 607-009514</tspan><tspan x="125" class="e">-39.4</tspan><tspan x="150" class="e">+14.7</tspan><tspan x="175" class="e">-15.0</tspan></text>
<text y="847" class="r"><tspan x="0">UCAC4 672-033085</tspan><tspan x="125" class="e">-42.1</tspan><tspan x="150" class="e">+13.0</tspan><tspan x="175" class="e">+1.4</tspan></text>
<text y="857" class="r"><tspan x="0">USNO-A2.0 0975-01884840</tspan><tspan x="125" class="e">-48.0</tspan><tspan x="150" class="e">-14.4</tspan><tspan x="175" class="e">-10.0</tspan></text>
<text y="868" class="r"><tspan x="0">V* IO Tau</tspan><tspan x="125" class="e">-69.1</tspan><tspan x="150" class="e">-0.3</tspan><tspan x="175" class="e">-29.8</tspan></text>
<text y="879" class="o"><tspan x="0">V* V1386 Ori</tspan><tspan x="125" class="e">-49.9</tspan><tspan x="150" class="e">-12.5</tspan><tspan x="175" class="e">-2.3</tspan></text>
</g>

<g transform="translate(1392,0)">
<text y="680" class="hd"><tspan x="0">Name</tspan><tspan x="122" class="m">X</tspan><tspan x="146" class="m">Y</tspan><tspan x="171" class="m">Z</tspan></text>
<text y="697" class="o"><tspan x="0">V* V2689 Ori</tspan><tspan x="125" class="e">-35.5</tspan><tspan x="150" class="e">-8.9</tspan><tspan x="174" class="e">-7.1</tspan></text>
<text y="708" class="r"><tspan x="0">V* V371 Ori</tspan><tspan x="125" class="e">-45.6</tspan><tspan x="150" class="e">-18.5</tspan><tspan x="174" class="e">-14.4</tspan></text>
<text y="719" class="r"><tspan x="0">V* V484 Tau</tspan><tspan x="125" class="e">-48.4</tspan><tspan x="150" class="e">+0.6</tspan><tspan x="174" class="e">-18.3</tspan></text>
<text y="730" class="r"><tspan x="0">WISEA J051019.92+271335.3</tspan><tspan x="125" class="e">-33.2</tspan><tspan x="150" class="e">+1.7</tspan><tspan x="174" class="e">-4.3</tspan></text>
<text y="748" class="r"><tspan x="0">Wolf 1246</tspan><tspan x="125" class="e">-45.9</tspan><tspan x="150" class="e">+12.7</tspan><tspan x="174" class="e">-21.2</tspan></text>
<text y="759" class="r"><tspan x="0">Wolf 1322</tspan><tspan x="125" class="e">-65.4</tspan><tspan x="150" class="e">+14.6</tspan><tspan x="174" class="e">-24.5</tspan></text>
<text y="770" class="r"><tspan x="0">Wolf 1539</tspan><tspan x="125" class="e">-36.3</tspan><tspan x="150" class="e">-7.9</tspan><tspan x="174" class="e">-15.7</tspan></text>
<text y="781" class="w"><tspan x="0">Wolf 219</tspan><tspan x="125" class="e">-53.9</tspan><tspan x="150" class="e">+9.1</tspan><tspan x="174" class="e">-29.1</tspan></text>
<text y="797" class="r"><tspan x="0">Wolf 230</tspan><tspan x="125" class="e">-36.8</tspan><tspan x="150" class="e">-2.9</tspan><tspan x="174" class="e">-8.7</tspan></text>
</g>
</svg>
</body></html>
